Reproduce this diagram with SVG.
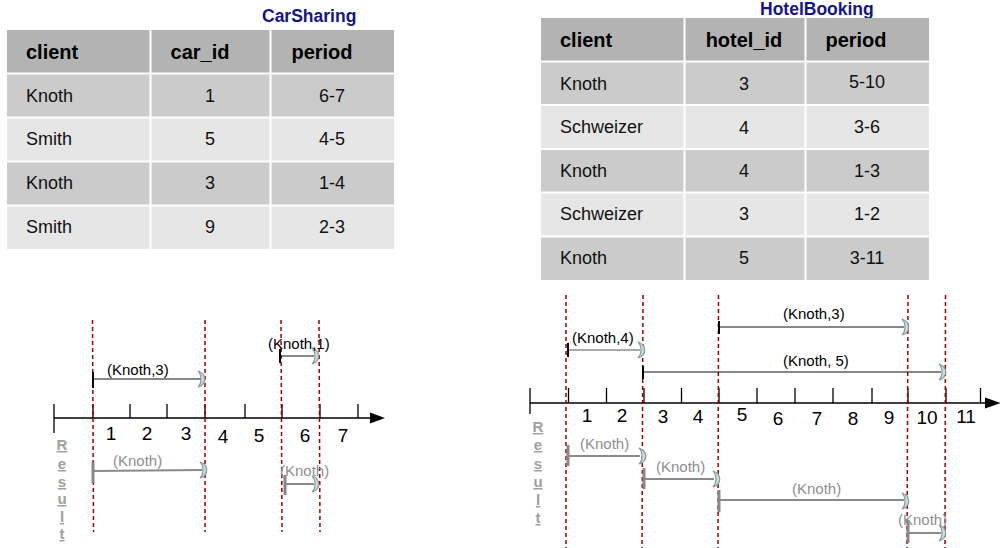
<svg xmlns="http://www.w3.org/2000/svg" width="1000" height="548" viewBox="0 0 1000 548">
<defs>
<style>
text{font-family:"Liberation Sans",Arial,sans-serif}
.title{font-size:17.5px;font-weight:bold;fill:#15158a}
.hdr{font-size:20px;font-weight:bold;fill:#000}
.cell{font-size:18px;fill:#111}
.hd{fill:#b3b3b3}
.r1{fill:#cbcbcb}
.r2{fill:#e6e6e6}
.sep{stroke:#fff;stroke-width:2}
.axis{stroke:#000;stroke-width:1.3;fill:none}
.num{font-size:19px;fill:#000}
.dash{stroke:#a00000;stroke-width:1.5;stroke-dasharray:4 3;fill:none}
.iv{stroke:#111;stroke-width:1.2}
.bar{stroke:#000;stroke-width:2}
.lbl{font-size:15px;fill:#000}
.riv{stroke:#8a8a8a;stroke-width:2}
.rbar{stroke:#888;stroke-width:3}
.rlbl{font-size:15px;fill:#8e8e8e}
.res{font-size:15px;font-weight:bold;fill:#a0a0a0;text-decoration:underline}
</style>
<path id="moon" d="M -3 -8 C 6 -5 6 5 -3 8 C 1 4 1 -4 -3 -8 Z" fill="#c9dcdf" stroke="#8a9a9c" stroke-width="1.2"/>
</defs>

<g id="carsharing-table">
<text class="title" x="262" y="22">CarSharing</text>
<rect class="hd" x="7" y="30" width="387" height="43"/>
<rect class="r1" x="7" y="74" width="387" height="43"/>
<rect class="r2" x="7" y="118" width="387" height="43"/>
<rect class="r1" x="7" y="162" width="387" height="43"/>
<rect class="r2" x="7" y="206" width="387" height="43"/>
<line class="sep" x1="150.5" y1="30" x2="150.5" y2="249"/>
<line class="sep" x1="270.5" y1="30" x2="270.5" y2="249"/>
<line class="sep" x1="7" y1="73.5" x2="394" y2="73.5"/>
<line class="sep" x1="7" y1="117.5" x2="394" y2="117.5"/>
<line class="sep" x1="7" y1="161.5" x2="394" y2="161.5"/>
<line class="sep" x1="7" y1="205.5" x2="394" y2="205.5"/>
<text class="hdr" x="26" y="59">client</text>
<text class="hdr" x="200" y="59" text-anchor="middle">car_id</text>
<text class="hdr" x="322" y="59" text-anchor="middle">period</text>
<text class="cell" x="26" y="102">Knoth</text>
<text class="cell" x="210" y="102" text-anchor="middle">1</text>
<text class="cell" x="332" y="102" text-anchor="middle">6-7</text>
<text class="cell" x="26" y="145">Smith</text>
<text class="cell" x="210" y="145" text-anchor="middle">5</text>
<text class="cell" x="332" y="145" text-anchor="middle">4-5</text>
<text class="cell" x="26" y="189">Knoth</text>
<text class="cell" x="210" y="189" text-anchor="middle">3</text>
<text class="cell" x="332" y="189" text-anchor="middle">1-4</text>
<text class="cell" x="26" y="233">Smith</text>
<text class="cell" x="210" y="233" text-anchor="middle">9</text>
<text class="cell" x="332" y="233" text-anchor="middle">2-3</text>
</g>

<g id="hotelbooking-table">
<text class="title" x="760" y="14.5">HotelBooking</text>
<rect class="hd" x="541" y="18" width="388" height="43"/>
<rect class="r1" x="541" y="62" width="388" height="43"/>
<rect class="r2" x="541" y="105" width="388" height="44"/>
<rect class="r1" x="541" y="149" width="388" height="43"/>
<rect class="r2" x="541" y="193" width="388" height="43"/>
<rect class="r1" x="541" y="237" width="388" height="43"/>
<line class="sep" x1="684.5" y1="18" x2="684.5" y2="280"/>
<line class="sep" x1="805.5" y1="18" x2="805.5" y2="280"/>
<line class="sep" x1="541" y1="61.5" x2="929" y2="61.5"/>
<line class="sep" x1="541" y1="105" x2="929" y2="105"/>
<line class="sep" x1="541" y1="149" x2="929" y2="149"/>
<line class="sep" x1="541" y1="192.5" x2="929" y2="192.5"/>
<line class="sep" x1="541" y1="236.5" x2="929" y2="236.5"/>
<text class="hdr" x="560" y="47">client</text>
<text class="hdr" x="744" y="47" text-anchor="middle">hotel_id</text>
<text class="hdr" x="856" y="47" text-anchor="middle">period</text>
<text class="cell" x="560" y="90">Knoth</text>
<text class="cell" x="744" y="90" text-anchor="middle">3</text>
<text class="cell" x="867" y="88" text-anchor="middle">5-10</text>
<text class="cell" x="560" y="133">Schweizer</text>
<text class="cell" x="744" y="134" text-anchor="middle">4</text>
<text class="cell" x="867" y="133" text-anchor="middle">3-6</text>
<text class="cell" x="560" y="177">Knoth</text>
<text class="cell" x="744" y="177" text-anchor="middle">4</text>
<text class="cell" x="867" y="177" text-anchor="middle">1-3</text>
<text class="cell" x="560" y="220">Schweizer</text>
<text class="cell" x="744" y="220" text-anchor="middle">3</text>
<text class="cell" x="867" y="220" text-anchor="middle">1-2</text>
<text class="cell" x="560" y="264">Knoth</text>
<text class="cell" x="744" y="264" text-anchor="middle">5</text>
<text class="cell" x="867" y="264" text-anchor="middle">3-11</text>
</g>

<g id="car-timeline">
<line class="axis" x1="54" y1="418" x2="372" y2="418"/>
<path d="M 370 412.5 L 385 418 L 370 423.5 Z" fill="#000"/>
<line class="axis" x1="54" y1="404" x2="54" y2="433"/>
<line class="axis" x1="93" y1="404" x2="93" y2="418"/>
<line class="axis" x1="130" y1="404" x2="130" y2="418"/>
<line class="axis" x1="167" y1="404" x2="167" y2="418"/>
<line class="axis" x1="205" y1="404" x2="205" y2="418"/>
<line class="axis" x1="245" y1="404" x2="245" y2="418"/>
<line class="axis" x1="282" y1="404" x2="282" y2="418"/>
<line class="axis" x1="320" y1="404" x2="320" y2="418"/>
<line class="axis" x1="358" y1="404" x2="358" y2="418"/>
<text class="num" x="111" y="440" text-anchor="middle">1</text>
<text class="num" x="147" y="440" text-anchor="middle">2</text>
<text class="num" x="186" y="440" text-anchor="middle">3</text>
<text class="num" x="223" y="443" text-anchor="middle">4</text>
<text class="num" x="259" y="442" text-anchor="middle">5</text>
<text class="num" x="305" y="442" text-anchor="middle">6</text>
<text class="num" x="343" y="442" text-anchor="middle">7</text>
<line class="dash" x1="92.5" y1="320" x2="93.5" y2="532"/>
<line class="dash" x1="205" y1="320" x2="205" y2="532"/>
<line class="dash" x1="281" y1="320" x2="282" y2="532"/>
<line class="dash" x1="319" y1="320" x2="320" y2="532"/>
<line class="iv" x1="93" y1="379" x2="201" y2="379"/>
<line class="bar" x1="93" y1="372" x2="93" y2="388"/>
<use href="#moon" x="201" y="379"/>
<text class="lbl" x="107" y="375">(Knoth,3)</text>
<line class="iv" x1="280" y1="356" x2="314" y2="356"/>
<line class="bar" x1="280" y1="349" x2="280" y2="363"/>
<use href="#moon" x="315" y="356"/>
<text class="lbl" x="268" y="349">(Knoth,1)</text>
<text class="res" x="62" y="450" text-anchor="middle">R</text>
<text class="res" x="62" y="469" text-anchor="middle">e</text>
<text class="res" x="62" y="487" text-anchor="middle">s</text>
<text class="res" x="62" y="504" text-anchor="middle">u</text>
<text class="res" x="62" y="522" text-anchor="middle">l</text>
<text class="res" x="62" y="539" text-anchor="middle">t</text>
<line class="riv" x1="93" y1="471" x2="202" y2="470"/>
<line class="rbar" x1="93" y1="462" x2="93" y2="483"/>
<use href="#moon" x="203" y="470"/>
<text class="rlbl" x="113" y="466">(Knoth)</text>
<line class="riv" x1="285" y1="484" x2="314" y2="484"/>
<line class="rbar" x1="285" y1="475" x2="285" y2="495"/>
<use href="#moon" x="315" y="484"/>
<text class="rlbl" x="280" y="476">(Knoth)</text>
</g>

<g id="hotel-timeline">
<line class="axis" x1="530" y1="403" x2="987" y2="403"/>
<path d="M 985 397.5 L 1001 403 L 985 408.5 Z" fill="#000"/>
<line class="axis" x1="530" y1="388" x2="530" y2="414"/>
<line class="axis" x1="568.5" y1="388" x2="568.5" y2="403"/>
<line class="axis" x1="606.5" y1="388" x2="606.5" y2="403"/>
<line class="axis" x1="644" y1="388" x2="644" y2="403"/>
<line class="axis" x1="681.5" y1="388" x2="681.5" y2="403"/>
<line class="axis" x1="719" y1="388" x2="719" y2="403"/>
<line class="axis" x1="757" y1="388" x2="757" y2="403"/>
<line class="axis" x1="795" y1="388" x2="795" y2="403"/>
<line class="axis" x1="833" y1="388" x2="833" y2="403"/>
<line class="axis" x1="872" y1="388" x2="872" y2="403"/>
<line class="axis" x1="908" y1="388" x2="908" y2="403"/>
<line class="axis" x1="946" y1="388" x2="946" y2="403"/>
<line class="axis" x1="980.5" y1="388" x2="980.5" y2="403"/>
<text class="num" x="587" y="422" text-anchor="middle">1</text>
<text class="num" x="622" y="422" text-anchor="middle">2</text>
<text class="num" x="663" y="423" text-anchor="middle">3</text>
<text class="num" x="698" y="423" text-anchor="middle">4</text>
<text class="num" x="742" y="421" text-anchor="middle">5</text>
<text class="num" x="778" y="425" text-anchor="middle">6</text>
<text class="num" x="817" y="425" text-anchor="middle">7</text>
<text class="num" x="853" y="425" text-anchor="middle">8</text>
<text class="num" x="889" y="424" text-anchor="middle">9</text>
<text class="num" x="927" y="424" text-anchor="middle">10</text>
<text class="num" x="966" y="423" text-anchor="middle">11</text>
<line class="dash" x1="566" y1="295" x2="566" y2="548"/>
<line class="dash" x1="643" y1="295" x2="642" y2="548"/>
<line class="dash" x1="718.5" y1="295" x2="718" y2="548"/>
<line class="dash" x1="908" y1="295" x2="907" y2="548"/>
<line class="dash" x1="945.5" y1="295" x2="945" y2="548"/>
<line class="iv" x1="719" y1="327" x2="904" y2="327"/>
<line class="bar" x1="719" y1="321" x2="719" y2="334"/>
<use href="#moon" x="905" y="327"/>
<text class="lbl" x="783" y="319">(Knoth,3)</text>
<line class="iv" x1="568" y1="350" x2="640" y2="350" style="stroke:#555"/>
<line class="bar" x1="568" y1="343" x2="568" y2="357"/>
<use href="#moon" x="641" y="350"/>
<text class="lbl" x="572" y="343">(Knoth,4)</text>
<line class="iv" x1="643" y1="372" x2="941" y2="372"/>
<line class="bar" x1="643" y1="366" x2="643" y2="379"/>
<use href="#moon" x="942" y="372"/>
<text class="lbl" x="783" y="366">(Knoth, 5)</text>
<text class="res" x="538" y="432" text-anchor="middle">R</text>
<text class="res" x="538" y="450" text-anchor="middle">e</text>
<text class="res" x="538" y="469" text-anchor="middle">s</text>
<text class="res" x="538" y="487" text-anchor="middle">u</text>
<text class="res" x="538" y="505" text-anchor="middle">l</text>
<text class="res" x="538" y="523" text-anchor="middle">t</text>
<line class="riv" x1="568" y1="456" x2="640" y2="456"/>
<line class="rbar" x1="568" y1="445" x2="568" y2="466"/>
<use href="#moon" x="642" y="456"/>
<text class="rlbl" x="580" y="449">(Knoth)</text>
<line class="riv" x1="644" y1="479" x2="714" y2="479"/>
<line class="rbar" x1="644" y1="468" x2="644" y2="489"/>
<use href="#moon" x="716" y="479"/>
<text class="rlbl" x="656" y="472">(Knoth)</text>
<line class="riv" x1="719" y1="500" x2="904" y2="500"/>
<line class="rbar" x1="719" y1="490" x2="719" y2="512"/>
<use href="#moon" x="905" y="501"/>
<text class="rlbl" x="792" y="494">(Knoth)</text>
<line class="riv" x1="908" y1="533" x2="941" y2="533"/>
<line class="rbar" x1="908" y1="520" x2="908" y2="543"/>
<use href="#moon" x="942" y="533"/>
<text class="rlbl" x="898" y="525">(Knoth)</text>
</g>
</svg>
